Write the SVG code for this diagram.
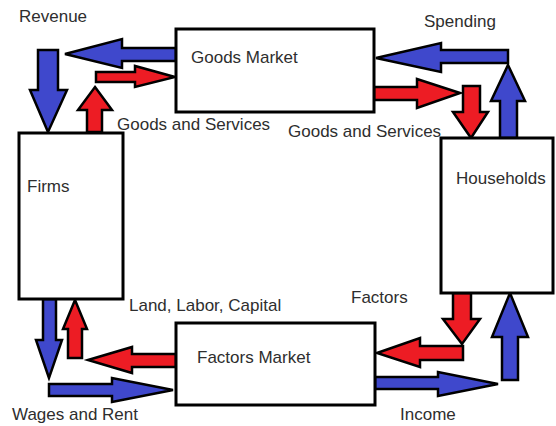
<svg xmlns="http://www.w3.org/2000/svg" width="556" height="426" viewBox="0 0 556 426">
<style>
.box{fill:#fff;stroke:#000;stroke-width:3}
.lbl{font-family:"Liberation Sans",Arial,sans-serif;font-size:17px;fill:#2e2e2e}
.blue{fill:#3f48cc;stroke:#000;stroke-width:2.5;stroke-linejoin:miter}
.red{fill:#ed1c24;stroke:#000;stroke-width:2.5;stroke-linejoin:miter}
</style>
<rect width="556" height="426" fill="#fff"/>
<g id="connectors">
<polygon class="blue" points="65,54 122,39 122,48 176,48 176,61 122,61 122,68"/>
<polygon class="blue" points="48,132 30,90 38,90 38,50 58,50 58,90 67,90"/>
<polygon class="red" points="175,77 135,66 135,72 96,72 96,82 135,82 135,87"/>
<polygon class="red" points="95,87 112,110 102,110 102,132 87,132 87,110 78,110"/>
<polygon class="blue" points="376,58 441,43 441,50 508,50 508,63 441,63 441,72"/>
<polygon class="blue" points="508,65 525,101 517,101 517,138 500,138 500,101 491,101"/>
<polygon class="red" points="460,93 417,79 417,87 374,87 374,100 417,100 417,108"/>
<polygon class="red" points="471,138 453,112 463,112 463,86 480,86 480,112 488,112"/>
<polygon class="blue" points="49,378 36,340 43,340 43,299 56,299 56,340 62,340"/>
<polygon class="red" points="75,300 87,329 82,329 82,358 68,358 68,329 63,329"/>
<polygon class="red" points="88,360 132,347 132,354 176,354 176,367 132,367 132,373"/>
<polygon class="blue" points="173,390 112,378 112,384 49,384 49,396 112,396 112,402"/>
<polygon class="red" points="462,344 443,319 453,319 453,293 471,293 471,319 480,319"/>
<polygon class="red" points="377,353 420,338 420,346 463,346 463,360 420,360 420,367"/>
<polygon class="blue" points="498,384 438,372 438,377 375,377 375,389 438,389 438,396"/>
<polygon class="blue" points="510,293 528,337 518,337 518,380 502,380 502,337 492,337"/>
</g>
<g id="goods-market">
<rect class="box" x="176" y="29" width="198" height="83"/>
<text class="lbl" x="191" y="63">Goods Market</text>
</g>
<g id="firms">
<rect class="box" x="19" y="133" width="104" height="166"/>
<text class="lbl" x="27" y="192">Firms</text>
</g>
<g id="households">
<rect class="box" x="441" y="138" width="112" height="155"/>
<text class="lbl" x="456" y="184">Households</text>
</g>
<g id="factors-market">
<rect class="box" x="176" y="323" width="199" height="82"/>
<text class="lbl" x="197" y="363">Factors Market</text>
</g>
<g id="labels">
<text class="lbl" x="19" y="22">Revenue</text>
<text class="lbl" x="424" y="27">Spending</text>
<text class="lbl" x="117" y="130">Goods and Services</text>
<text class="lbl" x="288" y="137">Goods and Services</text>
<text class="lbl" x="129" y="311">Land, Labor, Capital</text>
<text class="lbl" x="351" y="303">Factors</text>
<text class="lbl" x="12" y="420">Wages and Rent</text>
<text class="lbl" x="400" y="420">Income</text>
</g>
</svg>
